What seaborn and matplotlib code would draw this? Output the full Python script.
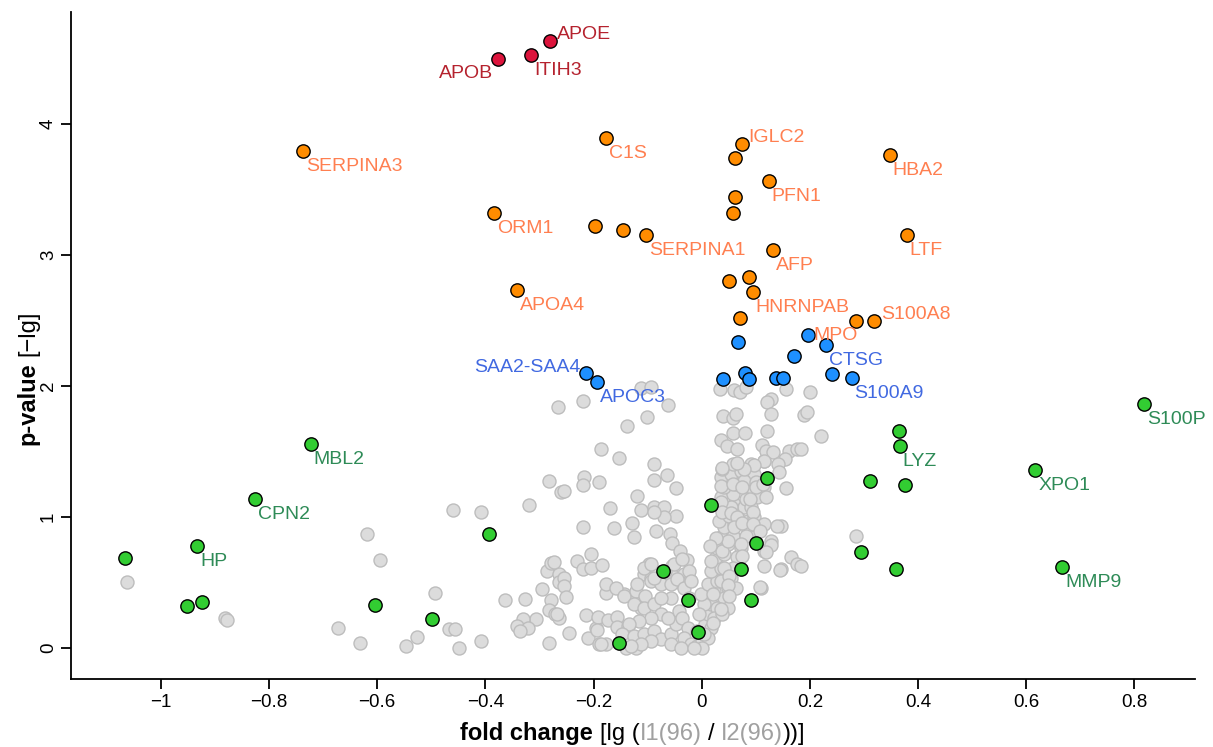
import numpy as np
import pandas as pd
import matplotlib
matplotlib.use("Agg")
import matplotlib.pyplot as plt
import seaborn as sns

sns.set_theme(style="ticks")
plt.rcParams['font.family'] = ['Liberation Sans', 'DejaVu Sans']

# ---------------- data ----------------
gray_x = [
    -1.063, -0.881, -0.877, -0.618, -0.595, -0.672, -0.632, -0.547, -0.527, -0.493,
    -0.467, -0.456, -0.449, -0.459, -0.408, -0.408, -0.364, -0.327, -0.320, -0.296,
    -0.286, -0.279, -0.279, -0.282, -0.272, -0.306, -0.330, -0.341, -0.322, -0.335,
    -0.282, -0.264, -0.264, -0.264, -0.266, -0.282, -0.261, -0.220, -0.255, -0.220,
    -0.273, -0.230, -0.205, -0.220, -0.254, -0.254, -0.251, -0.267, -0.245, -0.214,
    -0.196, -0.211, -0.190, -0.177,
    -0.113, -0.094, -0.062, -0.102, -0.139, -0.187, -0.153, -0.088, -0.065, -0.089,
    -0.048, -0.217, -0.219, -0.190, -0.119, -0.170, -0.113, -0.089, -0.070, -0.048,
    -0.070, -0.088, -0.129, -0.162, -0.085, -0.126, -0.059, -0.054, -0.040, -0.028,
    -0.204, -0.184, -0.098, -0.107, -0.094, -0.054, -0.057, -0.042, -0.033, -0.022,
    -0.177, -0.144, -0.122, -0.113, -0.192, -0.174, -0.157, -0.156, -0.137, -0.194,
    -0.187, -0.140, -0.122,
    -0.177, -0.159, -0.144, -0.122, -0.125, -0.104, -0.107, -0.088, -0.076, -0.094,
    -0.116, -0.134, -0.147, -0.125, -0.107, -0.088, -0.076, -0.057, -0.048, -0.063,
    -0.042, -0.036, -0.026, -0.033, -0.020, -0.008, 0.001, 0.004, -0.094, -0.113,
    -0.131, -0.057, -0.039, -0.119, -0.094, -0.076, -0.057, -0.045, -0.033, -0.024,
    -0.057, -0.076, -0.107, -0.094, -0.088, -0.067, -0.051, -0.036, -0.024, -0.020,
    -0.008, 0.007, 0.011, 0.017, 0.004, -0.005, -0.002, 0.023, 0.011, 0.029,
    0.017, 0.035, 0.026, 0.041, 0.029, 0.048, 0.035, 0.057, 0.041, 0.060,
    0.032, 0.051, 0.066, 0.041, 0.060, 0.078, 0.035, 0.057, 0.081, 0.041,
    0.063, 0.091, 0.035, 0.054, 0.072, 0.097, 0.038, 0.057, 0.091, 0.115,
    0.078, 0.100, 0.115, 0.103, 0.091, 0.085, 0.097, 0.115, 0.085, 0.128,
    0.115, 0.097, 0.072, 0.066, 0.057, 0.054, 0.048, 0.041, 0.029, 0.023,
    0.017, 0.011, 0.001, 0.048, 0.038, 0.020, 0.035, 0.063, 0.146, 0.165,
    0.177, 0.146, 0.109, 0.038, 0.054,
    0.034, 0.060, 0.071, 0.081, 0.155, 0.200, 0.128, 0.121, 0.039, 0.057,
    0.064, 0.128, 0.189, 0.194, 0.057, 0.080, 0.121, 0.220, 0.036, 0.046,
    0.065, 0.111, 0.118, 0.132, 0.161, 0.176, 0.154, 0.141, 0.142, 0.116,
    0.096, 0.078, 0.065, 0.037, 0.036, 0.057, 0.075, 0.100, 0.114, 0.155,
    0.118, 0.089, 0.035, 0.038, 0.054, 0.066, 0.094, 0.060, 0.075, 0.094,
    0.108, 0.139, 0.128, 0.118, 0.081, 0.072, 0.075, 0.049, 0.026, 0.015,
    0.017, 0.041, 0.050, 0.049, 0.050, 0.036, 0.020, 0.004, -0.014, 0.115,
    0.145, 0.108, 0.183, 0.285, 0.183,
]
gray_y = [
    0.505, 0.232, 0.212, 0.870, 0.673, 0.153, 0.041, 0.015, 0.084, 0.421,
    0.143, 0.143, 0.002, 1.053, 1.040, 0.056, 0.365, 0.377, 1.094, 0.449,
    0.584, 0.645, 0.365, 0.293, 0.258, 0.224, 0.224, 0.168, 0.155, 0.130,
    0.041, 0.564, 0.500, 0.232, 1.838, 1.277, 1.193, 1.884, 1.200, 0.920,
    0.653, 0.665, 0.717, 0.602, 0.538, 0.474, 0.390, 0.258, 0.117, 0.250,
    0.155, 0.074, 0.033, 0.028,
    1.986, 1.996, 1.856, 1.767, 1.698, 1.520, 1.448, 1.405, 1.321, 1.283,
    1.221, 1.308, 1.247, 1.265, 1.163, 1.069, 1.053, 1.073, 1.078, 1.010,
    0.997, 1.040, 0.951, 0.913, 0.895, 0.844, 0.870, 0.798, 0.742, 0.671,
    0.607, 0.632, 0.640, 0.564, 0.538, 0.627, 0.564, 0.500, 0.564, 0.518,
    0.423, 0.410, 0.372, 0.308, 0.237, 0.212, 0.237, 0.161, 0.168, 0.135,
    0.028, 0.002, 0.002,
    0.487, 0.461, 0.398, 0.436, 0.334, 0.398, 0.308, 0.334, 0.258, 0.232,
    0.206, 0.181, 0.105, 0.092, 0.105, 0.130, 0.066, 0.105, 0.181, 0.232,
    0.283, 0.232, 0.155, 0.079, 0.028, 0.015, 0.054, 0.105, 0.054, 0.028,
    0.015, 0.028, 0.002, 0.487, 0.512, 0.487, 0.487, 0.525, 0.461, 0.385,
    0.385, 0.385, 0.614, 0.640, 0.538, 0.589, 0.640, 0.678, 0.589, 0.512,
    0.130, 0.181, 0.258, 0.334, 0.334, 0.258, 0.411, 0.436, 0.487, 0.512,
    0.589, 0.614, 0.691, 0.717, 0.767, 0.793, 0.844, 0.857, 0.920, 0.946,
    0.971, 1.010, 1.023, 1.073, 1.099, 1.073, 1.150, 1.176, 1.137, 1.226,
    1.252, 1.226, 1.303, 1.329, 1.354, 1.329, 1.367, 1.405, 1.405, 1.430,
    1.277, 1.264, 1.226, 1.150, 1.073, 0.971, 0.997, 0.946, 0.895, 0.818,
    0.742, 0.844, 0.767, 0.691, 0.614, 0.538, 0.461, 0.385, 0.308, 0.232,
    0.155, 0.079, 0.002, 0.308, 0.258, 0.411, 0.512, 0.461, 0.933, 0.691,
    0.640, 0.602, 0.461, 0.742, 1.073,
    1.978, 1.971, 1.953, 1.996, 1.978, 1.953, 1.902, 1.876, 1.769, 1.757,
    1.787, 1.787, 1.782, 1.800, 1.642, 1.642, 1.660, 1.616, 1.589, 1.545,
    1.520, 1.553, 1.507, 1.494, 1.507, 1.520, 1.443, 1.405, 1.341, 1.430,
    1.397, 1.367, 1.413, 1.371, 1.239, 1.252, 1.226, 1.231, 1.252, 1.221,
    1.150, 1.137, 1.111, 1.035, 1.027, 0.997, 1.035, 0.920, 0.951, 0.946,
    0.895, 0.928, 0.788, 0.729, 0.857, 0.793, 0.704, 0.818, 0.839, 0.780,
    0.665, 0.614, 0.551, 0.482, 0.398, 0.296, 0.194, 0.105, 0.002, 0.627,
    0.594, 0.467, 1.520, 0.857, 0.627,
]

red_x = [-0.281, -0.316, -0.377]
red_y = [4.635, 4.528, 4.497]
red_names = ["APOE", "ITIH3", "APOB"]

orange_x = [-0.7375, -0.1775, 0.074, 0.061, 0.3475, 0.124, 0.061, 0.057, -0.3845, -0.198,
            -0.146, -0.1035, 0.379, 0.131, 0.087, 0.050, 0.094, -0.342, 0.070, 0.285, 0.318]
orange_y = [3.793, 3.893, 3.847, 3.740, 3.763, 3.564, 3.440, 3.320, 3.319, 3.220,
            3.190, 3.151, 3.151, 3.036, 2.830, 2.800, 2.715, 2.730, 2.516, 2.500, 2.500]
orange_names = ["SERPINA3", "C1S", "IGLC2", "", "HBA2", "PFN1", "", "", "ORM1", "",
                "", "SERPINA1", "LTF", "AFP", "", "", "HNRNPAB", "APOA4", "", "", "S100A8"]

blue_x = [0.196, 0.229, 0.240, 0.277, 0.0665, 0.170, 0.0795, -0.2144, -0.194, 0.039,
          0.087, 0.137, 0.150]
blue_y = [2.386, 2.317, 2.095, 2.065, 2.333, 2.233, 2.103, 2.096, 2.027, 2.050,
          2.050, 2.065, 2.065]
blue_names = ["MPO", "CTSG", "", "S100A9", "", "", "", "SAA2-SAA4", "APOC3", "",
              "", "", ""]

green_x = [0.817, 0.364, 0.366, 0.617, 0.312, 0.375, 0.294, 0.359, 0.667, -0.7227,
           -0.826, -0.933, -1.0665, -0.952, -0.924, -0.604, -0.499, -0.394, 0.1215, 0.0166,
           0.101, -0.0715, 0.0733, -0.0246, 0.0906, -0.0074, -0.153]
green_y = [1.866, 1.660, 1.545, 1.361, 1.277, 1.247, 0.734, 0.604, 0.620, 1.560,
           1.140, 0.780, 0.688, 0.321, 0.352, 0.329, 0.222, 0.872, 1.295, 1.094,
           0.800, 0.589, 0.602, 0.367, 0.365, 0.125, 0.041]
green_names = ["S100P", "", "LYZ", "XPO1", "", "", "", "", "MMP9", "MBL2",
               "CPN2", "HP", "", "", "", "", "", "", "", "",
               "", "", "", "", "", "", ""]

xtick_vals = [-1, -0.8, -0.6, -0.4, -0.2, 0, 0.2, 0.4, 0.6, 0.8]
xtick_labels = ["\u22121", "\u22120.8", "\u22120.6", "\u22120.4", "\u22120.2", "0", "0.2", "0.4", "0.6", "0.8"]
ytick_vals = [0, 1, 2, 3, 4]
ytick_labels = ["0", "1", "2", "3", "4"]

# ---------------- style ----------------
W, H = 1213, 747
fig = plt.figure(figsize=(W / 100, H / 100), dpi=100)
ax = fig.add_axes([71 / W, 1 - 679 / H, (1195 - 71) / W, (679 - 12) / H])

sns.scatterplot(x=gray_x, y=gray_y, color="#DCDCDC", edgecolor="#BDBDBD",
                linewidth=1.0, s=88, ax=ax, zorder=2, legend=False)

groups = [
    (red_x, red_y, red_names, "#DC143C", "#B5222E"),
    (orange_x, orange_y, orange_names, "#FF8C00", "#FF7F50"),
    (blue_x, blue_y, blue_names, "#1E90FF", "#4169E1"),
    (green_x, green_y, green_names, "#32CD32", "#2E8B57"),
]
label_pos = {"APOE": "ar", "IGLC2": "ar", "S100A8": "ar", "MPO": "r",
             "APOB": "bl", "SAA2-SAA4": "al"}
label_color_override = {"MPO": "#FF7F50"}
offsets = {"br": (2.2, -14.4, "left"), "ar": (5.0, 1.4, "left"), "r": (4.3, -3.6, "left"),
           "bl": (-3.6, -13.7, "right"), "al": (-3.6, 1.4, "right")}

for gx, gy, gn, fill, tcol in groups:
    df = pd.DataFrame({"x": gx, "y": gy})
    sns.scatterplot(data=df, x="x", y="y", color=fill, edgecolor="black",
                    linewidth=1.0, s=92, ax=ax, zorder=3, legend=False)
    for x, y, n in zip(gx, gy, gn):
        if not n:
            continue
        dx, dy, ha = offsets[label_pos.get(n, "br")]
        ax.annotate(n, (x, y), xytext=(dx, dy), textcoords="offset points",
                    ha=ha, va="baseline", fontsize=14,
                    color=label_color_override.get(n, tcol), zorder=4)

ax.set_xlim(-1.166, 0.912)
ax.set_ylim(-0.237, 4.856)
ax.set_xticks(xtick_vals)
ax.set_xticklabels(xtick_labels)
ax.set_yticks(ytick_vals)
ax.set_yticklabels(ytick_labels, rotation=90, va="center")
ax.tick_params(direction="out", length=7, width=1.3, labelsize=13.5, pad=4, colors="black")
ax.tick_params(axis="y", pad=3)
for s in ["top", "right"]:
    ax.spines[s].set_visible(False)
for s in ["left", "bottom"]:
    ax.spines[s].set_linewidth(1.3)
    ax.spines[s].set_color("black")
ax.set_xlabel("")
ax.set_ylabel("")

# ---------------- multi-style axis labels ----------------
renderer = fig.canvas.get_renderer()

def twidth(s, weight, size):
    t = fig.text(0, 0, s, fontsize=size, fontweight=weight)
    w = t.get_window_extent(renderer).width
    t.remove()
    return w

LS = 17
gap = twidth("a a", "normal", LS) - twidth("aa", "normal", LS)
xl_pieces = [("fold change", "bold", "black"), None, ("[lg (", "normal", "black"),
             ("I1(96)", "normal", "#A0A0A0"), None, ("/", "normal", "black"), None,
             ("I2(96)", "normal", "#A0A0A0"), ("))]", "normal", "black")]
widths = [gap if p is None else twidth(p[0], p[1], LS) for p in xl_pieces]
x0 = 633 - sum(widths) / 2
base_y = H - 740
for p, w in zip(xl_pieces, widths):
    if p is not None:
        fig.text(x0 / W, base_y / H, p[0], fontsize=LS, fontweight=p[1], color=p[2],
                 ha="left", va="baseline")
    x0 += w

yl_pieces = [("p-value", "bold", "black"), None, ("[\u2212lg]", "normal", "black")]
widths = [gap if p is None else twidth(p[0], p[1], LS) for p in yl_pieces]
y0 = (H - 378) - sum(widths) / 2
base_x = 34
for p, w in zip(yl_pieces, widths):
    if p is not None:
        fig.text(base_x / W, y0 / H, p[0], fontsize=LS, fontweight=p[1], color=p[2],
                 ha="left", va="baseline", rotation=90, rotation_mode="anchor")
    y0 += w

fig.savefig("out.png", dpi=100)
